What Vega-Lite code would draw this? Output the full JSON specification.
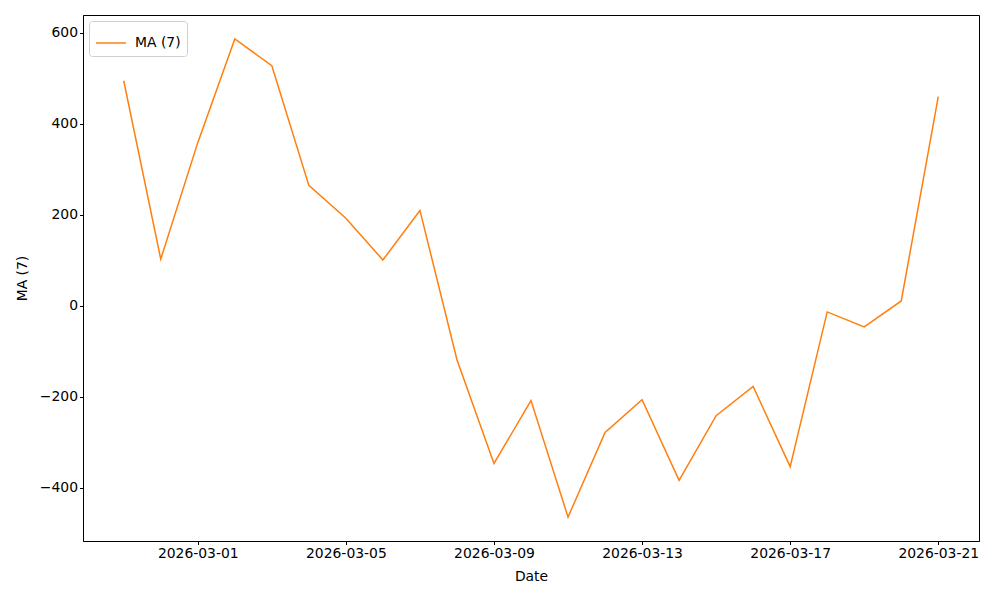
{
  "$schema": "https://vega.github.io/schema/vega-lite/v6.json",
  "autosize": "none",
  "width": 896,
  "height": 526,
  "padding": {"left": 83, "top": 15, "right": 21, "bottom": 59},
  "background": "white",
  "config": {
    "view": {"stroke": "black", "strokeWidth": 1},
    "font": "DejaVu Sans",
    "axis": {
      "grid": false,
      "domainColor": "black",
      "tickColor": "black",
      "tickSize": 3.5,
      "labelPadding": 2,
      "labelFont": "DejaVu Sans",
      "labelFontSize": 13.9,
      "labelColor": "black",
      "titleFont": "DejaVu Sans",
      "titleFontSize": 13.9,
      "titleFontWeight": "normal",
      "titleColor": "black"
    }
  },
  "data": {
    "values": [
      {"date": "2026-02-27", "ma": 495},
      {"date": "2026-02-28", "ma": 103},
      {"date": "2026-03-01", "ma": 359},
      {"date": "2026-03-02", "ma": 587},
      {"date": "2026-03-03", "ma": 528},
      {"date": "2026-03-04", "ma": 265},
      {"date": "2026-03-05", "ma": 193},
      {"date": "2026-03-06", "ma": 101},
      {"date": "2026-03-07", "ma": 210},
      {"date": "2026-03-08", "ma": -118},
      {"date": "2026-03-09", "ma": -346},
      {"date": "2026-03-10", "ma": -208},
      {"date": "2026-03-11", "ma": -464},
      {"date": "2026-03-12", "ma": -278},
      {"date": "2026-03-13", "ma": -206},
      {"date": "2026-03-14", "ma": -383},
      {"date": "2026-03-15", "ma": -241},
      {"date": "2026-03-16", "ma": -177},
      {"date": "2026-03-17", "ma": -353},
      {"date": "2026-03-18", "ma": -13},
      {"date": "2026-03-19", "ma": -46},
      {"date": "2026-03-20", "ma": 11},
      {"date": "2026-03-21", "ma": 460}
    ]
  },
  "mark": {"type": "line", "strokeWidth": 1.5},
  "encoding": {
    "x": {
      "field": "date",
      "type": "temporal",
      "title": "Date",
      "scale": {
        "type": "utc",
        "domain": [
          {"year": 2026, "month": 2, "date": 25, "hours": 21, "minutes": 36, "utc": true},
          {"year": 2026, "month": 3, "date": 22, "hours": 2, "minutes": 24, "utc": true}
        ],
        "nice": false
      },
      "axis": {
        "labelExpr": "utcFormat(datum.value, '%Y-%m-%d')",
        "labelAngle": 0,
        "titlePadding": 9,
        "values": [
          {"year": 2026, "month": 3, "date": 1, "utc": true},
          {"year": 2026, "month": 3, "date": 5, "utc": true},
          {"year": 2026, "month": 3, "date": 9, "utc": true},
          {"year": 2026, "month": 3, "date": 13, "utc": true},
          {"year": 2026, "month": 3, "date": 17, "utc": true},
          {"year": 2026, "month": 3, "date": 21, "utc": true}
        ]
      }
    },
    "y": {
      "field": "ma",
      "type": "quantitative",
      "title": "MA (7)",
      "scale": {"domain": [-516.5, 639.5], "nice": false, "zero": false},
      "axis": {"values": [-400, -200, 0, 200, 400, 600], "titlePadding": 10}
    },
    "color": {
      "datum": "MA (7)",
      "type": "nominal",
      "scale": {"range": ["#ff7f0e"]},
      "legend": {
        "title": null,
        "orient": "top-left",
        "offset": 6,
        "padding": 6,
        "strokeColor": "#d0d0d0",
        "fillColor": "white",
        "cornerRadius": 3,
        "symbolType": "stroke",
        "symbolSize": 900,
        "symbolStrokeWidth": 1.5,
        "labelFont": "DejaVu Sans",
        "labelFontSize": 13.9,
        "labelColor": "black",
        "labelOffset": 8
      }
    }
  }
}
